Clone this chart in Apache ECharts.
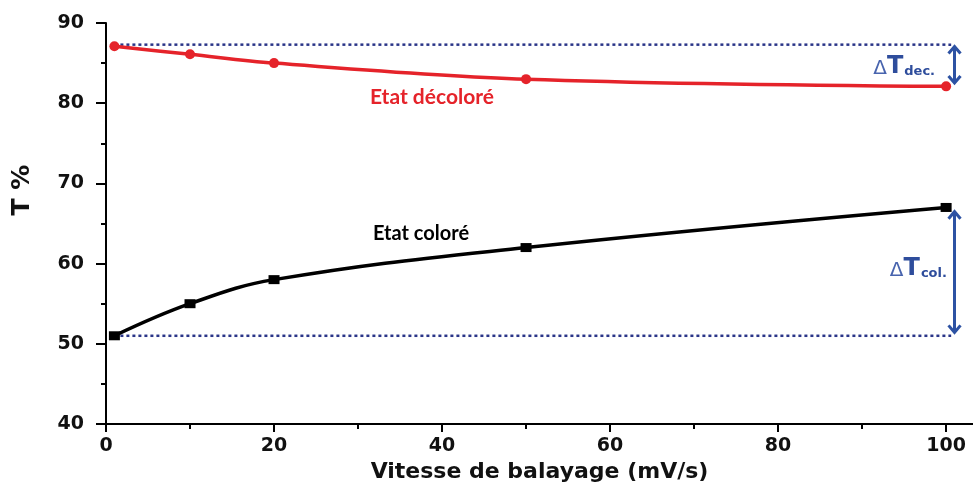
<!DOCTYPE html>
<html>
<head>
<meta charset="utf-8">
<script src="https://cdn.jsdelivr.net/npm/echarts@6/dist/echarts.min.js"></script>
<style>
  html, body { margin: 0; padding: 0; background: #fff; }
  #chart { width: 973px; height: 490px; }
</style>
</head>
<body>
<div id="chart"></div>
<script>
// Scan rates (mV/s)
const scanRates = [1, 10, 20, 50, 100];
// Transmittance (%) in the bleached and coloured states
const bleachedT = [87.1, 86.1, 85.0, 83.0, 82.1];
const colouredT = [51.0, 55.0, 58.0, 62.0, 67.0];

// Reference levels (dotted) and the two ΔT spans
const refLevels = [87.3, 51.0];
const refSpan = [1, 100.6];
const deltaDec = [101.0, 87.2, 82.4];
const deltaCol = [101.0, 66.6, 51.3];

// Axis ticks
const xTicks = [0, 20, 40, 60, 80, 100];
const xMinorTicks = [10, 30, 50, 70, 90];

const BLUE = '#2d52a3';
const NAVY = '#2a3588';
const RED = '#e5232a';
const tickFont = { fontFamily: 'DejaVu Sans', fontWeight: 'bold', fontSize: 19, color: '#111' };

const chart = echarts.init(document.getElementById('chart'), null, { renderer: 'canvas' });

function arrowItem(params, api) {
  const top = api.coord([api.value(0), api.value(1)]);
  const bot = api.coord([api.value(0), api.value(2)]);
  const hw = 6, hh = 8;
  const style = { stroke: BLUE, lineWidth: 3, fill: null };
  return {
    type: 'group',
    children: [
      { type: 'line', shape: { x1: top[0], y1: top[1] + 1, x2: bot[0], y2: bot[1] - 1 }, style },
      { type: 'polyline', shape: { points: [[top[0] - hw, top[1] + hh], [top[0], top[1] + 1], [top[0] + hw, top[1] + hh]] }, style },
      { type: 'polyline', shape: { points: [[bot[0] - hw, bot[1] - hh], [bot[0], bot[1] - 1], [bot[0] + hw, bot[1] - hh]] }, style }
    ]
  };
}

// A text annotation anchored at data coordinates
function textMark(x, y, formatter, rich, base) {
  return {
    type: 'scatter',
    symbolSize: 0,
    silent: true,
    z: 5,
    data: [[x, y]],
    label: Object.assign({
      show: true, position: 'inside', formatter: formatter, rich: rich,
      textBorderWidth: 0, textBorderColor: 'transparent', opacity: 1
    }, base),
    emphasis: { disabled: true }
  };
}

const deltaRich = {
  d: { fontFamily: 'DejaVu Sans', fontSize: 20, color: '#4864ae', verticalAlign: 'bottom', textBorderWidth: 0 },
  t: { fontFamily: 'DejaVu Sans', fontWeight: 'bold', fontSize: 24, color: '#2e4d9c', verticalAlign: 'bottom', textBorderWidth: 0 },
  s: { fontFamily: 'DejaVu Sans', fontWeight: 'bold', fontSize: 13, color: '#2e4d9c', padding: [9, 0, 0, 1], verticalAlign: 'bottom', textBorderWidth: 0 }
};

chart.setOption({
  animation: false,
  grid: { left: 106, top: 23, right: 0, bottom: 66, containLabel: false },
  xAxis: [
    {
      type: 'value', min: 0, max: 103.2,
      name: 'Vitesse de balayage (mV/s)', nameLocation: 'middle', nameGap: 35,
      nameTextStyle: { fontFamily: 'DejaVu Sans', fontWeight: 'bold', fontSize: 22, color: '#111' },
      axisLine: { show: true, lineStyle: { color: '#000', width: 2 } },
      axisTick: { show: true, length: 8, lineStyle: { color: '#000', width: 2 }, customValues: xTicks },
      axisLabel: Object.assign({ margin: 13, customValues: xTicks }, tickFont),
      splitLine: { show: false }
    },
    {
      type: 'value', min: 0, max: 103.2, position: 'bottom',
      axisLine: { show: false },
      axisTick: { show: true, length: 5, lineStyle: { color: '#000', width: 2 }, customValues: xMinorTicks },
      axisLabel: { show: false },
      splitLine: { show: false }
    }
  ],
  yAxis: {
    type: 'value', min: 40, max: 90, interval: 10,
    axisLine: { show: true, lineStyle: { color: '#000', width: 2 } },
    axisTick: { show: true, length: 10, lineStyle: { color: '#000', width: 2 } },
    minorTick: { show: true, splitNumber: 2, length: 5, lineStyle: { color: '#000', width: 2 } },
    axisLabel: Object.assign({ margin: 22 }, tickFont),
    splitLine: { show: false },
    minorSplitLine: { show: false }
  },
  graphic: [
    {
      type: 'text', x: 22, y: 190, rotation: Math.PI / 2,
      style: { text: 'T %', fontFamily: 'DejaVu Sans', fontWeight: 'bold', fontSize: 25, fill: '#111', align: 'center', verticalAlign: 'middle' }
    }
  ],
  series: [
    {
      name: 'ref-bleached', type: 'line', symbol: 'none', silent: true, z: 1,
      data: refSpan.map(x => [x, refLevels[0]]),
      lineStyle: { color: NAVY, width: 2.5, type: [3, 3] }
    },
    {
      name: 'ref-coloured', type: 'line', symbol: 'none', silent: true, z: 1,
      data: refSpan.map(x => [x, refLevels[1]]),
      lineStyle: { color: NAVY, width: 2.5, type: [3, 3] }
    },
    {
      name: 'Etat décoloré', type: 'line', smooth: 0.35, z: 3,
      data: scanRates.map((x, i) => [x, bleachedT[i]]),
      symbol: 'circle', symbolSize: 10,
      itemStyle: { color: RED },
      lineStyle: { color: RED, width: 3.5 }
    },
    {
      name: 'Etat coloré', type: 'line', smooth: 0.4, z: 3,
      data: scanRates.map((x, i) => [x, colouredT[i]]),
      symbol: 'rect', symbolSize: [11, 9],
      itemStyle: { color: '#000' },
      lineStyle: { color: '#000', width: 3.5 }
    },
    {
      type: 'custom', silent: true, z: 4,
      renderItem: arrowItem,
      data: [deltaDec, deltaCol]
    },
    textMark(38.8, 80.8, 'Etat décoloré', null,
      { fontFamily: 'Lato', fontWeight: 'bold', fontSize: 21, color: RED }),
    textMark(37.5, 63.8, 'Etat coloré', null,
      { fontFamily: 'Lato', fontWeight: 'bold', fontSize: 20, color: '#000' }),
    textMark(95.0, 84.6, '{d|Δ}{t|T}{s|dec.}', deltaRich, {}),
    textMark(96.7, 59.4, '{d|Δ}{t|T}{s|col.}', deltaRich, {})
  ]
});
</script>
</body>
</html>
